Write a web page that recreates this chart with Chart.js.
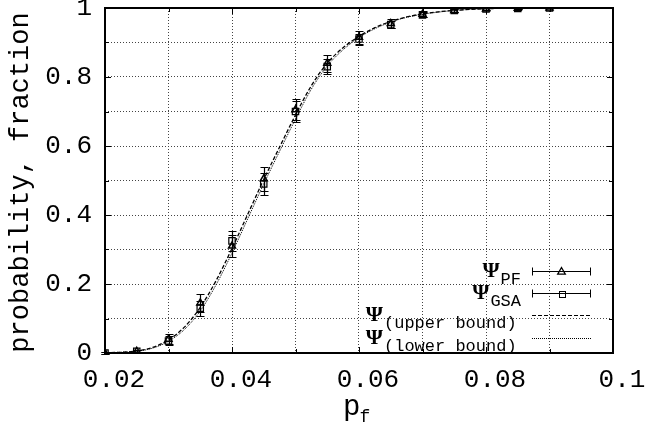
<!DOCTYPE html>
<html><head><meta charset="utf-8">
<script src="https://cdn.jsdelivr.net/npm/chart.js@4"></script>
<style>html,body{margin:0;padding:0;background:#fff}canvas{display:block}</style>
</head><body>
<canvas id="c" width="645" height="432"></canvas>
<script>
// ---- data ----
const pointX = [0.02,0.025,0.03,0.035,0.04,0.045,0.05,0.055,0.06,0.065,0.07,0.075,0.08,0.085,0.09];
const psiPF  = [0,0.005,0.04,0.145,0.31,0.505,0.705,0.84,0.915,0.955,0.982,0.993,0.997,0.999,1];
const errPF  = [0.002,0.003,0.015,0.025,0.032,0.035,0.03,0.025,0.018,0.012,0.008,0.004,0.002,0.001,0.001];
const psiGSA = [0,0.005,0.035,0.13,0.325,0.49,0.70,0.83,0.91,0.952,0.98,0.993,0.997,0.999,1];
const errGSA = [0.002,0.003,0.013,0.022,0.028,0.032,0.03,0.022,0.016,0.01,0.007,0.004,0.002,0.001,0.001];
const boundX = [0.02,0.0225,0.025,0.0275,0.03,0.0325,0.035,0.0375,0.04,0.0425,0.045,0.0475,0.05,0.0525,0.055,0.0575,0.06,0.0625,0.065,0.0675,0.07,0.0725,0.075,0.0775,0.08,0.0825,0.085,0.0875,0.09,0.0925,0.095,0.0975,0.1];
const upperBound = [0.001,0.002,0.006,0.016,0.038,0.075,0.132,0.21,0.303,0.403,0.503,0.597,0.69,0.775,0.84,0.885,0.918,0.943,0.961,0.974,0.983,0.989,0.993,0.996,0.998,0.999,0.9995,1,1,1,1,1,1];
const lowerBound = [0.001,0.002,0.005,0.014,0.034,0.068,0.122,0.198,0.29,0.39,0.49,0.585,0.678,0.765,0.832,0.879,0.914,0.94,0.959,0.973,0.982,0.988,0.993,0.996,0.998,0.999,0.9995,1,1,1,1,1,1];
const xTickLabels = {2:'0.02',4:'0.04',6:'0.06',8:'0.08',10:'0.1'};
const yTickLabels = {0:'0',2:'0.2',4:'0.4',6:'0.6',8:'0.8',10:'1'};
const xTitle = ['p','f'];
const yTitle = 'probability, fraction';
const legendItems = [
  {sym:'Ψ', sub:'PF', kind:'errTri'},
  {sym:'Ψ', sub:'GSA', kind:'errSq'},
  {sym:'Ψ', sub:'(upper bound)', kind:'dash'},
  {sym:'Ψ', sub:'(lower bound)', kind:'dot'}
];

const zip = (xs, ys) => xs.map((v,i)=>({x:v, y:ys[i]}));
const MONO = '"Courier New","Liberation Mono","DejaVu Sans Mono",monospace';

function drawTri(ctx, x, y, r){
  ctx.beginPath();
  ctx.moveTo(x, y - r);
  ctx.lineTo(x + r*0.95, y + r*0.65);
  ctx.lineTo(x - r*0.95, y + r*0.65);
  ctx.closePath(); ctx.stroke();
}
function drawSq(ctx, x, y, h){
  ctx.strokeRect(Math.round(x)-h+0.5, Math.round(y)-h+0.5, 2*h, 2*h);
}

const deco = {
  id: 'deco',
  afterDatasetsDraw(chart){
    const {ctx, scales:{x, y}} = chart;
    chart.data.datasets.forEach((ds)=>{
      if(!ds.errors) return;
      ctx.save(); ctx.strokeStyle = '#000'; ctx.lineWidth = 1.2;
      ds.data.forEach((p,j)=>{
        const e = ds.errors[j];
        const px = Math.round(x.getPixelForValue(p.x)) + 0.5;
        const y1 = Math.round(y.getPixelForValue(Math.min(p.y + e, 1.0005))) + 0.5;
        const y2 = Math.round(y.getPixelForValue(p.y - e)) + 0.5;
        ctx.beginPath();
        ctx.moveTo(px, y1); ctx.lineTo(px, y2);
        ctx.moveTo(px-4, y1); ctx.lineTo(px+4, y1);
        ctx.moveTo(px-4, y2); ctx.lineTo(px+4, y2);
        ctx.stroke();
      });
      ctx.restore();
    });
  },
  afterDraw(chart){
    const {ctx, chartArea:a, scales:{x, y}} = chart;
    ctx.save();
    // inner ticks
    ctx.strokeStyle = '#000'; ctx.lineWidth = 1;
    ctx.beginPath();
    x.ticks.forEach(t=>{
      const k = Math.round(t.value*100);
      const len = (k % 2 === 0) ? 6 : 4;
      const px = Math.round(x.getPixelForValue(t.value)) + 0.5;
      ctx.moveTo(px, a.bottom); ctx.lineTo(px, a.bottom - len);
      ctx.moveTo(px, a.top); ctx.lineTo(px, a.top + len);
    });
    y.ticks.forEach(t=>{
      const k = Math.round(t.value*10);
      const len = (k % 2 === 0) ? 6 : 4;
      const py = Math.round(y.getPixelForValue(t.value)) + 0.5;
      ctx.moveTo(a.left, py); ctx.lineTo(a.left + len, py);
      ctx.moveTo(a.right, py); ctx.lineTo(a.right - len, py);
    });
    ctx.stroke();
    // frame
    ctx.lineWidth = 2;
    ctx.strokeRect(Math.round(a.left), Math.round(a.top), Math.round(a.right - a.left), Math.round(a.bottom - a.top));

    // y title
    ctx.fillStyle = '#000';
    ctx.font = '27px ' + MONO;
    ctx.textAlign = 'center'; ctx.textBaseline = 'alphabetic';
    ctx.save();
    ctx.translate(a.left - 77, (a.top + a.bottom)/2 + 2);
    ctx.rotate(-Math.PI/2);
    ctx.fillText(yTitle, 0, 0);
    ctx.restore();

    // x title p_f
    const cx = (a.left + a.right)/2;
    ctx.textAlign = 'left';
    ctx.font = '29px ' + MONO;
    const pw = ctx.measureText(xTitle[0]).width;
    ctx.fillText(xTitle[0], cx - 16, a.bottom + 62);
    ctx.font = '18px ' + MONO;
    ctx.fillText(xTitle[1], cx - 16 + pw - 1, a.bottom + 69);

    // legend
    const lx1 = a.right - 81, lx2 = a.right - 22;
    const rows = [a.bottom - 82, a.bottom - 60, a.bottom - 38, a.bottom - 15];
    legendItems.forEach((it, i)=>{
      const ly = rows[i];
      ctx.font = 'bold 22px "Liberation Serif","DejaVu Serif",serif';
      const symW = ctx.measureText(it.sym).width;
      ctx.font = '17px ' + MONO;
      const subW = ctx.measureText(it.sub).width;
      let subX;
      if (it.sub.length > 4) {
        subX = a.right - 229;
      } else {
        subX = a.right - 92 - subW;
      }
      ctx.textAlign = 'left';
      ctx.font = '17px ' + MONO;
      ctx.fillText(it.sub, subX, ly + 13);
      ctx.font = 'bold 22px "Liberation Serif","DejaVu Serif",serif';
      ctx.fillText(it.sym, subX - symW - 1, ly + 6);
      // sample
      const yy = Math.round(ly) + 0.5;
      ctx.lineWidth = 1; ctx.strokeStyle = '#000';
      if (it.kind === 'errTri' || it.kind === 'errSq') {
        ctx.setLineDash([]);
        ctx.beginPath();
        ctx.moveTo(lx1, yy); ctx.lineTo(lx2, yy);
        ctx.moveTo(lx1 + 0.5, yy - 4); ctx.lineTo(lx1 + 0.5, yy + 4);
        ctx.moveTo(lx2 - 0.5, yy - 4); ctx.lineTo(lx2 - 0.5, yy + 4);
        ctx.stroke();
        const mx = (lx1 + lx2)/2;
        if (it.kind === 'errTri') { ctx.lineWidth = 1.3; drawTri(ctx, mx, yy, 4); }
        else { drawSq(ctx, mx, yy, 3); }
      } else {
        ctx.setLineDash(it.kind === 'dash' ? [4,2] : [1,1]);
        ctx.beginPath(); ctx.moveTo(lx1, yy); ctx.lineTo(lx2, yy); ctx.stroke();
        ctx.setLineDash([]);
      }
    });
    ctx.restore();
  }
};

new Chart(document.getElementById('c'), {
  type: 'line',
  data: {
    datasets: [
      { label: 'upper', data: zip(boundX, upperBound), borderColor: '#000', borderWidth: 1.3,
        borderDash: [4,2], pointRadius: 0, fill: false, cubicInterpolationMode: 'monotone' },
      { label: 'lower', data: zip(boundX, lowerBound), borderColor: '#000', borderWidth: 1,
        borderDash: [1,1], pointRadius: 0, fill: false, cubicInterpolationMode: 'monotone' },
      { label: 'PF', data: zip(pointX, psiPF), errors: errPF, showLine: false,
        pointStyle: 'triangle', pointRadius: 4, pointBorderWidth: 1.5,
        pointBorderColor: '#000', pointBackgroundColor: 'rgba(0,0,0,0)' },
      { label: 'GSA', data: zip(pointX, psiGSA), errors: errGSA, showLine: false,
        pointStyle: 'rect', pointRadius: 4.5, pointBorderWidth: 1.2,
        pointBorderColor: '#000', pointBackgroundColor: 'rgba(0,0,0,0)' }
    ]
  },
  options: {
    responsive: false, animation: false, devicePixelRatio: 1,
    layout: { padding: { top: 8, right: 32, left: 0, bottom: 0 } },
    plugins: { legend: { display: false }, tooltip: { enabled: false } },
    scales: {
      x: {
        type: 'linear', min: 0.02, max: 0.1,
        afterFit(s){ s.height = 79; s.paddingLeft = 0; s.paddingRight = 0; },
        grid: { color: '#444', lineWidth: 1, drawTicks: false },
        border: { display: false, dash: [1,2] },
        ticks: {
          stepSize: 0.01, padding: 12, labelOffset: 9, maxRotation: 0, autoSkip: false,
          color: '#000', font: { family: MONO, size: 26 },
          callback: (v) => xTickLabels[Math.round(v*100)] || ''
        }
      },
      y: {
        type: 'linear', min: 0, max: 1,
        afterFit(s){ s.width = 105; s.paddingTop = 0; s.paddingBottom = 0; },
        grid: { color: '#444', lineWidth: 1, drawTicks: false },
        border: { display: false, dash: [1,2] },
        ticks: {
          stepSize: 0.1, padding: 13, autoSkip: false,
          color: '#000', font: { family: MONO, size: 26 },
          callback: (v) => yTickLabels[Math.round(v*10)] || ''
        }
      }
    }
  },
  plugins: [deco]
});
</script>
</body></html>
